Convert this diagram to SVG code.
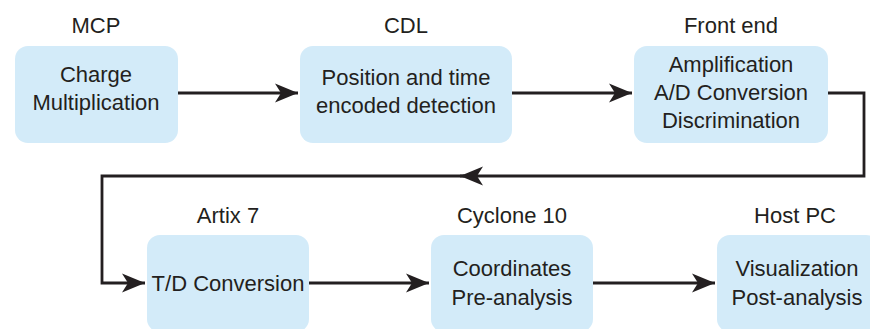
<svg xmlns="http://www.w3.org/2000/svg" width="870" height="329" viewBox="0 0 870 329">
<style>
.box{fill:#d3ebf9;}
.t{font-family:"Liberation Sans",Arial,sans-serif;font-size:22px;fill:#231f20;text-anchor:middle;}
.c{fill:none;stroke:#231f20;stroke-width:2.8;}
</style>
<defs>
<marker id="ah" markerUnits="userSpaceOnUse" markerWidth="24" markerHeight="20" viewBox="-23 -10 24 20" refX="0" refY="0" orient="auto">
<path d="M0,0 L-23,-9.5 L-17,0 L-23,9.5 Z" fill="#231f20"/>
</marker>
</defs>
<rect width="870" height="329" fill="#fff"/>
<g id="connectors">
<path class="c" d="M178,93 H298" marker-end="url(#ah)"/>
<path class="c" d="M512,93 H632" marker-end="url(#ah)"/>
<path class="c" d="M828,93 H864 V176 H462"/>
<path class="c" d="M464,176 H460" marker-end="url(#ah)"/>
<path class="c" d="M462,176 H102 V283 H145" marker-end="url(#ah)"/>
<path class="c" d="M309,283 H429" marker-end="url(#ah)"/>
<path class="c" d="M593,283 H715" marker-end="url(#ah)"/>
</g>
<g id="mcp">
<text class="t" x="96" y="33">MCP</text>
<rect class="box" x="15" y="46" width="163" height="97" rx="13"/>
<text class="t" x="96" y="82">Charge</text>
<text class="t" x="96" y="110">Multiplication</text>
</g>
<g id="cdl">
<text class="t" x="406" y="33">CDL</text>
<rect class="box" x="300" y="46" width="212" height="97" rx="13"/>
<text class="t" x="406" y="85">Position and time</text>
<text class="t" x="406" y="113">encoded detection</text>
</g>
<g id="frontend">
<text class="t" x="731" y="33">Front end</text>
<rect class="box" x="634" y="46" width="194" height="97" rx="13"/>
<text class="t" x="731" y="72">Amplification</text>
<text class="t" x="731" y="100">A/D Conversion</text>
<text class="t" x="731" y="128">Discrimination</text>
</g>
<g id="artix">
<text class="t" x="228" y="223">Artix 7</text>
<rect class="box" x="147" y="235" width="162" height="97" rx="13"/>
<text class="t" x="228" y="291">T/D Conversion</text>
</g>
<g id="cyclone">
<text class="t" x="512" y="223">Cyclone 10</text>
<rect class="box" x="431" y="235" width="162" height="97" rx="13"/>
<text class="t" x="512" y="276">Coordinates</text>
<text class="t" x="512" y="305">Pre-analysis</text>
</g>
<g id="host">
<text class="t" x="795" y="223">Host PC</text>
<rect class="box" x="717" y="235" width="162" height="97" rx="13"/>
<text class="t" x="797" y="276">Visualization</text>
<text class="t" x="797" y="305">Post-analysis</text>
</g>
</svg>
